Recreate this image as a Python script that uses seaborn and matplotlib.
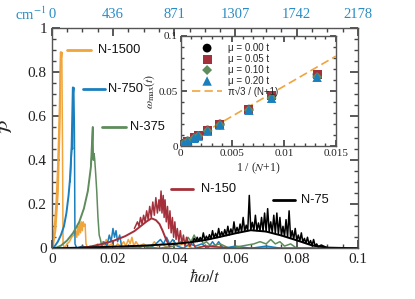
import matplotlib
matplotlib.use("Agg")
import numpy as np
import pandas as pd
import matplotlib.pyplot as plt
import seaborn as sns
from matplotlib.ticker import MultipleLocator

sns.set_theme(style="ticks")
plt.rcParams.update({
    "font.family": ["Liberation Serif", "DejaVu Serif"],
    "mathtext.fontset": "stix",
    "axes.edgecolor": "#555555",
    "axes.linewidth": 1.0,
})

C_ORANGE = "#f0a53c"
C_BLUE = "#1b7fbd"
C_GREEN = "#5f8c5c"
C_RED = "#a3303a"
C_BLACK = "#000000"
C_TOP = "#2a8cc4"
SANS = ["Liberation Sans", "DejaVu Sans"]

# ---- spectra (hbar omega / t , P) ----
n1500_env_x = [0.0003, 0.0012, 0.0020, 0.0026, 0.0030]
n1500_env_y = [0.0, 0.08, 0.25, 0.55, 0.89]
n1500_x = [0.0005, 0.0010, 0.0015, 0.0020, 0.0025, 0.0029, 0.0031, 0.0033, 0.0035, 0.0037,
           0.0042, 0.0050, 0.0058, 0.0065, 0.0072, 0.0078, 0.0082, 0.0085, 0.0088, 0.0091,
           0.0094, 0.0097, 0.0100, 0.0103, 0.0106, 0.0109, 0.0112, 0.0118, 0.0125, 0.0135,
           0.0150, 0.0158, 0.0165, 0.0172, 0.0178, 0.0185, 0.0195, 0.0205, 0.0215, 0.0225,
           0.0235, 0.0242, 0.0250, 0.0256, 0.0262, 0.0268, 0.0275, 0.0285, 0.0300, 0.0320,
           0.0335, 0.0345, 0.0360, 0.0380, 0.0400, 0.0410, 0.0430, 0.0460, 0.0500, 0.0600,
           0.0800, 0.1000]
n1500_y = [0.05, 0.12, 0.22, 0.38, 0.62, 0.89, 0.86, 0.89, 0.50, 0.02,
           0.00, 0.02, 0.03, 0.05, 0.06, 0.08, 0.05, 0.10, 0.06, 0.12,
           0.07, 0.12, 0.08, 0.12, 0.10, 0.11, 0.02, 0.00, 0.01, 0.00,
           0.02, 0.00, 0.03, 0.01, 0.04, 0.01, 0.02, 0.00, 0.02, 0.01,
           0.03, 0.01, 0.04, 0.02, 0.05, 0.01, 0.03, 0.01, 0.02, 0.00,
           0.03, 0.01, 0.02, 0.00, 0.03, 0.01, 0.02, 0.00, 0.01, 0.00,
           0.00, 0.00]

n750_env_x = [0.0005, 0.0020, 0.0030, 0.0040, 0.0048, 0.0055, 0.0060, 0.0065, 0.0069]
n750_env_y = [0.0, 0.03, 0.06, 0.10, 0.16, 0.24, 0.32, 0.46, 0.73]
n750_x = [0.0060, 0.0064, 0.0066, 0.0068, 0.0070, 0.0072, 0.0074, 0.0076, 0.0082, 0.0100,
          0.0120, 0.0140, 0.0160, 0.0170, 0.0180, 0.0188, 0.0194, 0.0200, 0.0205, 0.0210,
          0.0215, 0.0222, 0.0228, 0.0240, 0.0260, 0.0280, 0.0300, 0.0320, 0.0340, 0.0355,
          0.0365, 0.0375, 0.0385, 0.0395, 0.0410, 0.0430, 0.0450, 0.0470, 0.0490, 0.0510,
          0.0525, 0.0535, 0.0545, 0.0560, 0.0600, 0.0650, 0.0700, 0.0750, 0.1000]
n750_y = [0.30, 0.42, 0.47, 0.45, 0.70, 0.73, 0.55, 0.02, 0.00, 0.01,
          0.00, 0.01, 0.00, 0.03, 0.01, 0.06, 0.03, 0.09, 0.05, 0.08,
          0.03, 0.06, 0.01, 0.00, 0.01, 0.00, 0.01, 0.00, 0.02, 0.04,
          0.02, 0.05, 0.02, 0.04, 0.01, 0.00, 0.02, 0.01, 0.02, 0.00,
          0.03, 0.01, 0.03, 0.00, 0.01, 0.00, 0.01, 0.00, 0.00]

n375_env_x = [0.0010, 0.0030, 0.0050, 0.0070, 0.0090, 0.0105, 0.0118, 0.0128, 0.0134]
n375_env_y = [0.0, 0.012, 0.035, 0.07, 0.12, 0.18, 0.26, 0.37, 0.55]
n375_x = [0.0128, 0.0131, 0.0134, 0.0136, 0.0138, 0.0140, 0.0143, 0.0147, 0.0151, 0.0155,
          0.0159, 0.0163, 0.0170, 0.0200, 0.0250, 0.0300, 0.0350, 0.0400, 0.0420, 0.0435,
          0.0445, 0.0455, 0.0465, 0.0475, 0.0485, 0.0495, 0.0505, 0.0520, 0.0550, 0.0580,
          0.0620, 0.0660, 0.0680, 0.0700, 0.0715, 0.0730, 0.0745, 0.0760, 0.0780, 0.0800,
          0.1000]
n375_y = [0.38, 0.42, 0.55, 0.40, 0.43, 0.41, 0.35, 0.26, 0.14, 0.06,
          0.04, 0.01, 0.00, 0.01, 0.00, 0.01, 0.00, 0.01, 0.03, 0.02,
          0.05, 0.03, 0.06, 0.03, 0.05, 0.02, 0.03, 0.01, 0.02, 0.00,
          0.01, 0.02, 0.03, 0.02, 0.04, 0.02, 0.03, 0.01, 0.02, 0.00,
          0.00]

n150_env_x = [0.0080, 0.0120, 0.0160, 0.0200, 0.0240, 0.0270, 0.0290, 0.0310, 0.0326,
              0.0340, 0.0352, 0.0362, 0.0372, 0.0385]
n150_env_y = [0.0, 0.006, 0.018, 0.033, 0.055, 0.078, 0.10, 0.122, 0.136,
              0.128, 0.11, 0.08, 0.045, 0.008]
n150_x = [0.0270, 0.0280, 0.0285, 0.0290, 0.0295, 0.0300, 0.0305, 0.0310, 0.0315, 0.0320,
          0.0325, 0.0330, 0.0335, 0.0340, 0.0345, 0.0350, 0.0353, 0.0357, 0.0360, 0.0364,
          0.0367, 0.0370, 0.0374, 0.0378, 0.0382, 0.0386, 0.0390, 0.0394, 0.0398, 0.0402,
          0.0406, 0.0410, 0.0415, 0.0420, 0.0425, 0.0430, 0.0435, 0.0440, 0.0450, 0.0460,
          0.0470, 0.0500, 0.0600, 0.1000]
n150_y = [0.09, 0.12, 0.10, 0.14, 0.11, 0.15, 0.12, 0.17, 0.13, 0.19,
          0.14, 0.21, 0.15, 0.23, 0.16, 0.22, 0.17, 0.26, 0.16, 0.24,
          0.14, 0.22, 0.12, 0.19, 0.09, 0.17, 0.07, 0.14, 0.05, 0.12,
          0.04, 0.09, 0.03, 0.08, 0.02, 0.06, 0.01, 0.05, 0.01, 0.03,
          0.00, 0.01, 0.00, 0.00]

n75_env_x = [0.0, 0.010, 0.020, 0.030, 0.040, 0.045, 0.050, 0.055, 0.060, 0.065,
             0.070, 0.075, 0.080, 0.085, 0.090, 0.100]
n75_env_y = [0.0, 0.003, 0.007, 0.012, 0.020, 0.027, 0.037, 0.052, 0.068, 0.082,
             0.076, 0.058, 0.036, 0.013, 0.003, 0.0]
n75_x = [0.0460, 0.0465, 0.0470, 0.0475, 0.0480, 0.0485, 0.0490, 0.0495, 0.0500, 0.0505,
         0.0510, 0.0515, 0.0520, 0.0525, 0.0530, 0.0535, 0.0540, 0.0545, 0.0550, 0.0555,
         0.0560, 0.0565, 0.0570, 0.0575, 0.0580, 0.0585, 0.0590, 0.0595, 0.0600, 0.0605,
         0.0610, 0.0615, 0.0620, 0.0625, 0.0630, 0.0635, 0.0640, 0.0645, 0.0650, 0.0655,
         0.0660, 0.0665, 0.0670, 0.0675, 0.0680, 0.0685, 0.0690, 0.0695, 0.0700, 0.0705,
         0.0710, 0.0715, 0.0720, 0.0725, 0.0730, 0.0735, 0.0740, 0.0745, 0.0750, 0.0755,
         0.0760, 0.0765, 0.0770, 0.0775, 0.0780, 0.0785, 0.0790, 0.0795, 0.0800, 0.0805,
         0.0810, 0.0815, 0.0820, 0.0825, 0.0830, 0.0835, 0.0840, 0.0845, 0.0850, 0.0855,
         0.0860, 0.0865, 0.0870, 0.0880, 0.0900]
n75_y = [0.029, 0.045, 0.031, 0.050, 0.033, 0.048, 0.035, 0.070, 0.037, 0.055,
         0.040, 0.062, 0.043, 0.080, 0.046, 0.068, 0.049, 0.090, 0.052, 0.075,
         0.055, 0.085, 0.058, 0.100, 0.061, 0.088, 0.064, 0.120, 0.068, 0.095,
         0.071, 0.110, 0.074, 0.140, 0.077, 0.105, 0.080, 0.240, 0.082, 0.118,
         0.081, 0.150, 0.080, 0.115, 0.079, 0.140, 0.078, 0.160, 0.076, 0.180,
         0.074, 0.120, 0.072, 0.150, 0.068, 0.160, 0.064, 0.140, 0.058, 0.100,
         0.054, 0.130, 0.050, 0.170, 0.045, 0.080, 0.041, 0.090, 0.036, 0.060,
         0.032, 0.070, 0.027, 0.045, 0.023, 0.050, 0.018, 0.035, 0.013, 0.040,
         0.010, 0.020, 0.007, 0.015, 0.002]

series = [
    ("N-1500", C_ORANGE, n1500_env_x, n1500_env_y, n1500_x, n1500_y),
    ("N-750", C_BLUE, n750_env_x, n750_env_y, n750_x, n750_y),
    ("N-375", C_GREEN, n375_env_x, n375_env_y, n375_x, n375_y),
    ("N-150", C_RED, n150_env_x, n150_env_y, n150_x, n150_y),
    ("N-75", C_BLACK, n75_env_x, n75_env_y, n75_x, n75_y),
]

# label placement: (segment start, segment end, text x, y) in data units
label_pos = {
    "N-1500": (0.0050, 0.0128, 0.0151, 0.90),
    "N-750": (0.0103, 0.0174, 0.0183, 0.724),
    "N-375": (0.0163, 0.0244, 0.0255, 0.55),
    "N-150": (0.0390, 0.0461, 0.0489, 0.267),
    "N-75": (0.0722, 0.0793, 0.0814, 0.219),
}

x_ticks = [0.0, 0.02, 0.04, 0.06, 0.08, 0.1]
x_labels = ["0", "0.02", "0.04", "0.06", "0.08", "0.1"]
y_ticks = [0.0, 0.2, 0.4, 0.6, 0.8, 1.0]
y_labels = ["0", "0.2", "0.4", "0.6", "0.8", "1"]
top_labels = ["0", "436", "871", "1307", "1742", "2178"]

# ---- inset: omega_max vs 1/(N+1) ----
inv_n = [0.0003, 0.00067, 0.0013, 0.0017, 0.0026, 0.0038, 0.0066, 0.0088, 0.0132]
w_mu000 = [0.0025, 0.0045, 0.0075, 0.0095, 0.0145, 0.0200, 0.0335, 0.0455, 0.0650]
w_mu005 = [0.0025, 0.0045, 0.0075, 0.0095, 0.0145, 0.0200, 0.0335, 0.0455, 0.0650]
w_mu010 = [0.0021, 0.0041, 0.0071, 0.0091, 0.0137, 0.0191, 0.0326, 0.0436, 0.0627]
w_mu020 = [0.0020, 0.0040, 0.0070, 0.0090, 0.0135, 0.0190, 0.0325, 0.0434, 0.0625]
fit_x = [0.0, 0.015]
fit_y = [0.0, 0.0816]
ins_x_ticks = [0.0, 0.005, 0.01, 0.015]
ins_x_labels = ["0", "0.005", "0.01", "0.015"]
ins_y_ticks = [0.0, 0.05, 0.1]
ins_y_labels = ["0", "0.05", "0.1"]

fig = plt.figure(figsize=(4.15, 2.99), dpi=100)
ax = fig.add_axes([0.1246, 0.1696, 0.7381, 0.7368])

for name, col, ex, ey, sx, sy in series:
    sns.lineplot(x=ex, y=ey, ax=ax, color=col, lw=1.4, estimator=None, sort=False, legend=False)
    sns.lineplot(x=sx, y=sy, ax=ax, color=col, lw=1.1, estimator=None, sort=False, legend=False)
    x0, x1, tx, ly = label_pos[name]
    ax.plot([x0, x1], [ly, ly], color=col, lw=2.0)
    ax.text(tx, ly, name, color="#111111", va="center", ha="left",
            fontsize=9.3, family=SANS)

ax.set_xlim(0, 0.1)
ax.set_ylim(0, 1)
ax.set_xticks(x_ticks, x_labels)
ax.set_yticks(y_ticks, y_labels)
ax.xaxis.set_minor_locator(MultipleLocator(0.005))
ax.yaxis.set_minor_locator(MultipleLocator(0.05))
ax.tick_params(which="both", direction="in", top=True, right=True, labelsize=11,
               color="#444444", labelcolor="#222222")
ax.tick_params(which="major", length=6)
ax.tick_params(which="minor", length=3)
ax.set_xlabel(r"$\hbar\omega/t$", fontsize=12, labelpad=2)
ax.set_ylabel(r"$\mathcal{P}$", fontsize=13, rotation=90)
ax.yaxis.set_label_coords(-0.115, 0.55)

sec = ax.secondary_xaxis("top")
sec.set_xticks(x_ticks, top_labels)
sec.tick_params(length=0, labelsize=10.5, labelcolor=C_TOP, pad=5)
sec.spines["top"].set_visible(False)
fig.text(0.035, 0.952, r"cm$^{-1}$", color=C_TOP, fontsize=10.5, va="center")

# inset
ins = fig.add_axes([0.4354, 0.5117, 0.3735, 0.3679])
ins.set_facecolor("white")
sns.lineplot(x=fit_x, y=fit_y, ax=ins, color=C_ORANGE, lw=1.2,
             label="π√3 / (N+1)", legend=False)
ins.lines[-1].set_dashes((5, 2.5))
sns.scatterplot(x=inv_n, y=w_mu000, ax=ins, color="black", marker="o", s=40, edgecolor="none",
                label="μ = 0.00 t", zorder=3, legend=False)
sns.scatterplot(x=inv_n, y=w_mu005, ax=ins, color=C_RED, marker="s", s=42, edgecolor="none",
                label="μ = 0.05 t", zorder=3, legend=False)
sns.scatterplot(x=inv_n, y=w_mu010, ax=ins, color=C_GREEN, marker="D", s=26, edgecolor="none",
                label="μ = 0.10 t", zorder=3, legend=False)
sns.scatterplot(x=inv_n, y=w_mu020, ax=ins, color=C_BLUE, marker="^", s=46, edgecolor="none",
                label="μ = 0.20 t", zorder=3, legend=False)
handles, labels = ins.get_legend_handles_labels()
order = [1, 2, 3, 4, 0]
ins.legend([handles[i] for i in order], [labels[i] for i in order], loc="upper left",
           bbox_to_anchor=(0.048, 0.975), borderaxespad=0.0,
           frameon=False, handlelength=3.1, labelspacing=0.1, handletextpad=0.6,
           prop={"family": SANS, "size": 7})
ins.set_xlim(0, 0.015)
ins.set_ylim(0, 0.1)
ins.set_xticks(ins_x_ticks, ins_x_labels)
ins.set_yticks(ins_y_ticks, ins_y_labels)
ins.xaxis.set_minor_locator(MultipleLocator(0.001))
ins.yaxis.set_minor_locator(MultipleLocator(0.01))
ins.tick_params(which="both", direction="in", top=True, right=True, labelsize=8,
                color="#444444", labelcolor="#222222", pad=2)
ins.tick_params(which="major", length=4)
ins.tick_params(which="minor", length=2.5)
ins.set_xlabel(r"1 / ($N$+1)", fontsize=8.5, labelpad=2)
ins.set_ylabel(r"$\omega_{\rm max}(t)$", fontsize=8.5, labelpad=1)

fig.savefig("out.png", dpi=100)
